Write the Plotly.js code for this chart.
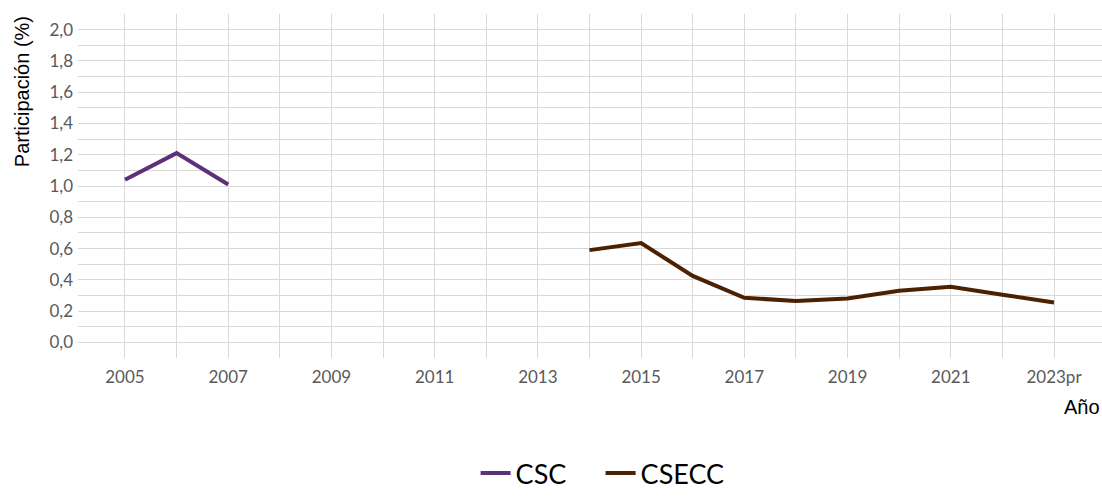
<!DOCTYPE html>
<html>
<head>
<meta charset="utf-8">
<script src="https://cdn.plot.ly/plotly-3.0.1.min.js"></script>
<style>html,body{margin:0;padding:0;background:#fff;}#chart{width:1102px;height:498px;}</style>
</head>
<body>
<div id="chart"></div>
<script>
const years = ["2005","2006","2007","2008","2009","2010","2011","2012","2013","2014","2015","2016","2017","2018","2019","2020","2021","2022","2023pr"];
const cscYears = ["2005","2006","2007"];
const cscValues = [1.04, 1.21, 1.01];
const cseccYears = ["2014","2015","2016","2017","2018","2019","2020","2021","2022","2023pr"];
const cseccValues = [0.59, 0.635, 0.425, 0.285, 0.265, 0.28, 0.33, 0.355, 0.305, 0.255];
const yTickVals = [0,0.2,0.4,0.6,0.8,1.0,1.2,1.4,1.6,1.8,2.0];
const yTickText = ["0,0","0,2","0,4","0,6","0,8","1,0","1,2","1,4","1,6","1,8","2,0"];
const xTickText = years.map((y,i)=> i%2===0 ? y : "");

const tickFont = {family:"Lato, 'DejaVu Sans', sans-serif", size:17, color:"#595959"};
const traces = [
  {x:cscYears, y:cscValues, type:"scatter", mode:"lines", name:"CSC", line:{color:"#5c3178", width:4}},
  {x:cseccYears, y:cseccValues, type:"scatter", mode:"lines", name:"CSECC", line:{color:"#4b2102", width:4}}
];
const layout = {
  width:1102, height:498,
  margin:{l:78, r:0, t:14, b:140, autoexpand:false},
  paper_bgcolor:"#fff", plot_bgcolor:"#fff",
  showlegend:true,
  legend:{orientation:"h", x:0.545, xref:"container", xanchor:"center", y:0.0, yref:"container", yanchor:"bottom",
          entrywidth:80, entrywidthmode:"pixels",
          font:{family:"Lato, 'DejaVu Sans', sans-serif", size:27, color:"#000"}},
  xaxis:{type:"category", categoryorder:"array", categoryarray:years,
         range:[-0.91, 18.93], tickvals:years, ticktext:xTickText,
         showgrid:true, gridcolor:"#d9d9d9", gridwidth:1, zeroline:false,
         showline:false, ticks:"", tickfont:tickFont, ticklabelstandoff:7, automargin:false},
  yaxis:{range:[-0.1, 2.1], tickvals:yTickVals, ticktext:yTickText,
         showgrid:true, gridcolor:"#d9d9d9", gridwidth:1, zeroline:false,
         minor:{dtick:0.1, tick0:0, showgrid:true, gridcolor:"#d9d9d9", gridwidth:1},
         ticks:"", tickfont:tickFont, ticklabelstandoff:4, automargin:false},
  annotations:[
    {text:"Participación (%)", xref:"paper", yref:"paper", x:-0.055, y:1.0, xanchor:"center", yanchor:"top",
     textangle:-90, showarrow:false, font:{family:"'Liberation Sans Narrow', 'Liberation Sans', sans-serif", size:20, color:"#000"}},
    {text:"Año", xref:"paper", yref:"paper", x:1.0, y:-0.105, xanchor:"right", yanchor:"top",
     showarrow:false, font:{family:"'Liberation Sans Narrow', 'Liberation Sans', sans-serif", size:20, color:"#000"}}
  ]
};
Plotly.newPlot("chart", traces, layout, {displayModeBar:false, staticPlot:true});
</script>
</body>
</html>
